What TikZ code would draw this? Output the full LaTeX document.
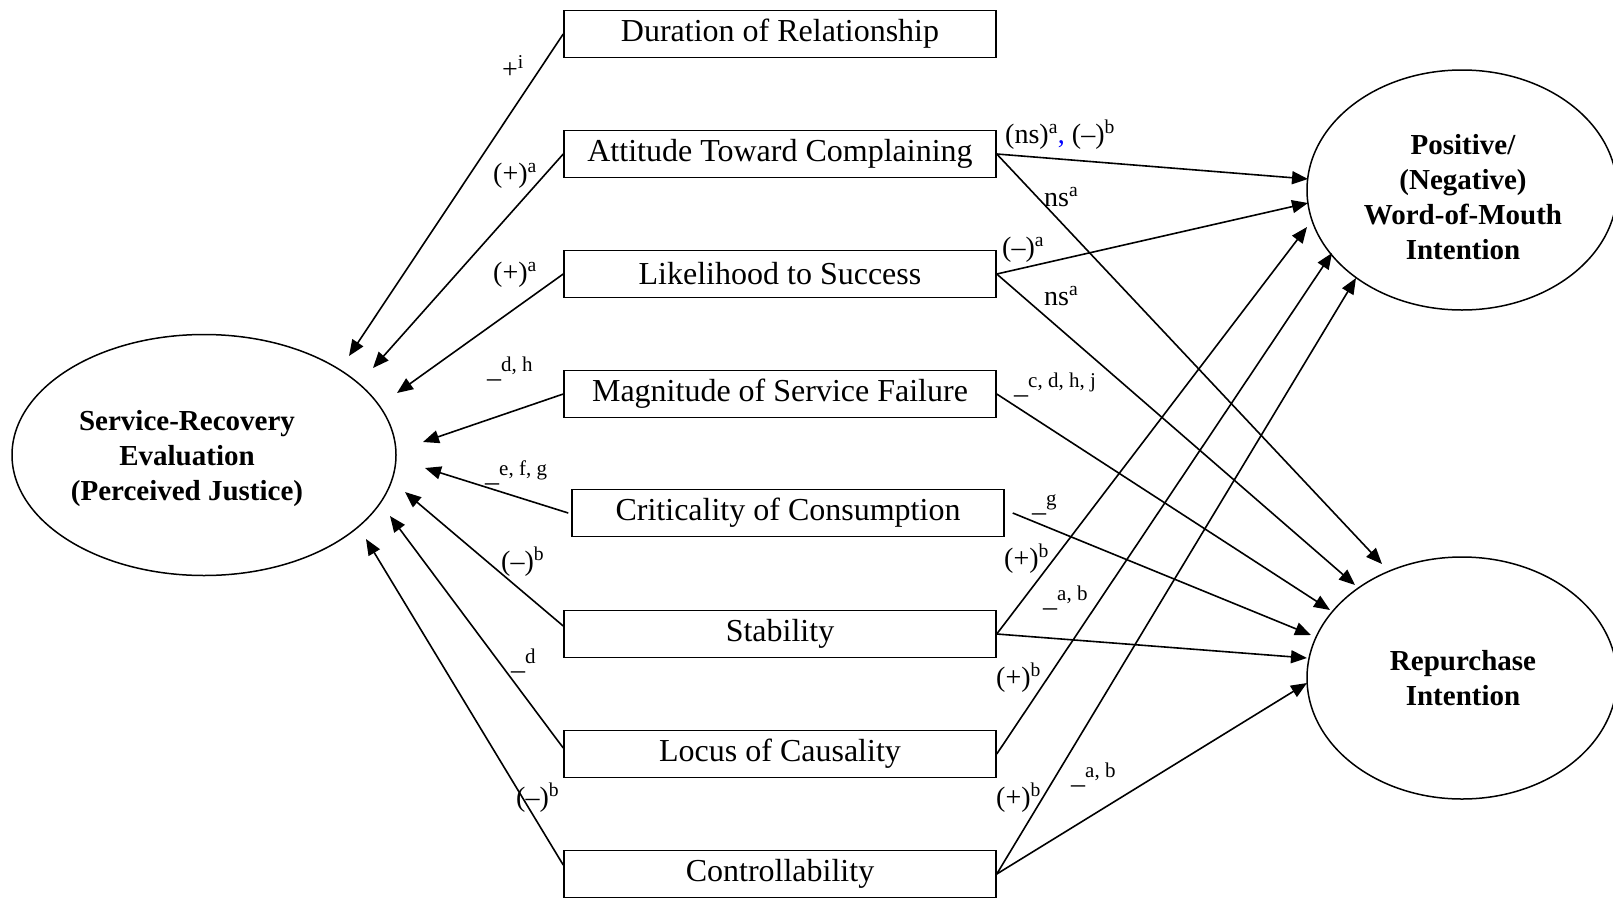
\documentclass[tikz,border=0pt]{standalone}
\usepackage{fontspec}
\setmainfont{Liberation Serif}
\usetikzlibrary{arrows.meta,shapes.geometric}
\newcommand{\usup}[1]{\raisebox{6pt}{\fontsize{21}{22}\selectfont #1}}
\begin{document}
\begin{tikzpicture}[x=1pt,y=-1pt,
  factor/.style={draw, line width=1.5pt, minimum width=432pt, minimum height=47pt, inner sep=0pt, font=\fontsize{32}{36}\selectfont},
  construct/.style={draw, ellipse, line width=1.5pt, inner sep=0pt},
  ctext/.style={inner sep=0pt, align=center, font=\fontsize{29}{35}\selectfont\bfseries},
  link/.style={line width=1.6pt, -{Triangle[length=16pt,width=13pt]}},
  lab/.style={anchor=base west, inner sep=0pt, font=\fontsize{28}{32}\selectfont}]
\useasboundingbox (0,0) rectangle (1613,897);

% factor boxes
\node[factor] (dur)  at (780,34)  {Duration of Relationship};
\node[factor] (att)  at (780,154) {Attitude Toward Complaining};
\node[factor] (lik)  at (780,274) {Likelihood to Success};
\node[factor] (mag)  at (780,394) {Magnitude of Service Failure};
\node[factor] (crit) at (788,513) {Criticality of Consumption};
\node[factor] (stab) at (780,634) {Stability};
\node[factor] (loc)  at (780,754) {Locus of Causality};
\node[factor] (ctrl) at (780,874) {Controllability};

% constructs
\node[construct, minimum width=384pt, minimum height=241pt] (sre) at (204,455) {};
\node[ctext] (sretext) at (187,459) {Service-Recovery\\Evaluation\\(Perceived Justice)};
\node[construct, minimum width=310pt, minimum height=240pt] (wom) at (1462,190) {};
\node[ctext] (womtext) at (1463,197) {Positive/\\(Negative)\\Word-of-Mouth\\Intention};
\node[construct, minimum width=310pt, minimum height=242pt] (rep) at (1462,678) {};
\node[ctext] (reptext) at (1463,678) {Repurchase\\Intention};

% arrow tips
\coordinate (s1) at (349,356);
\coordinate (s2) at (373,368);
\coordinate (s3) at (397,393);
\coordinate (s4) at (423,442);
\coordinate (s5) at (425,468);
\coordinate (s6) at (405,492);
\coordinate (s7) at (390,516);
\coordinate (s8) at (366,539);
\coordinate (w1) at (1308,179);
\coordinate (w2) at (1308,203);
\coordinate (w3) at (1307,227);
\coordinate (w4) at (1332,253);
\coordinate (w5) at (1356,278);
\coordinate (r1) at (1382,564);
\coordinate (r2) at (1355,585);
\coordinate (r3) at (1330,610);
\coordinate (r4) at (1311,635);
\coordinate (r5) at (1307,658);
\coordinate (r6) at (1307,683);

% connectors into service-recovery evaluation
\draw[link] (dur.west) -- (s1);
\draw[link] (att.west) -- (s2);
\draw[link] (lik.west) -- (s3);
\draw[link] (mag.west) -- (s4);
\draw[link] ([xshift=-3pt]crit.west) -- (s5);
\draw[link] ([yshift=8pt]stab.west) -- (s6);
\draw[link] ([yshift=6pt]loc.west) -- (s7);
\draw[link] ([yshift=9pt]ctrl.west) -- (s8);

% connectors into outcomes
\draw[link] (att.east) -- (w1);
\draw[link] (att.east) -- (r1);
\draw[link] (lik.east) -- (w2);
\draw[link] (lik.east) -- (r2);
\draw[link] (mag.east) -- (r3);
\draw[link] ([xshift=8pt]crit.east) -- (r4);
\draw[link] (stab.east) -- (w3);
\draw[link] (stab.east) -- (r5);
\draw[link] (loc.east) -- (w4);
\draw[link] (ctrl.east) -- (w5);
\draw[link] (ctrl.east) -- (r6);

% labels left
\node[lab] (l1) at (502,78)  {+\textsuperscript{i}};
\node[lab] (l2) at (493,182) {(+)\textsuperscript{a}};
\node[lab] (l3) at (493,281) {(+)\textsuperscript{a}};
\node[lab] (l4) at (487,377) {\_\usup{d, h}};
\node[lab] (l5) at (485,481) {\_\usup{e, f, g}};
\node[lab] (l6) at (501,570) {(–)\textsuperscript{b}};
\node[lab] (l7) at (511,669) {\_\usup{d}};
\node[lab] (l8) at (516,806) {(–)\textsuperscript{b}};

% labels right
\node[lab] (r1l) at (1005,143) {(ns)\textsuperscript{a}\textcolor{blue}{,} (–)\textsuperscript{b}};
\node[lab] (r2l) at (1044,206) {ns\textsuperscript{a}};
\node[lab] (r3l) at (1002,256) {(–)\textsuperscript{a}};
\node[lab] (r4l) at (1044,305) {ns\textsuperscript{a}};
\node[lab] (r5l) at (1014,393) {\_\usup{c, d, h, j}};
\node[lab] (r6l) at (1032,511) {\_\usup{g}};
\node[lab] (r7l) at (1004,567) {(+)\textsuperscript{b}};
\node[lab] (r8l) at (1043,606) {\_\usup{a, b}};
\node[lab] (r9l) at (996,686)  {(+)\textsuperscript{b}};
\node[lab] (r10l) at (996,806) {(+)\textsuperscript{b}};
\node[lab] (r11l) at (1071,783) {\_\usup{a, b}};
\end{tikzpicture}
\end{document}
